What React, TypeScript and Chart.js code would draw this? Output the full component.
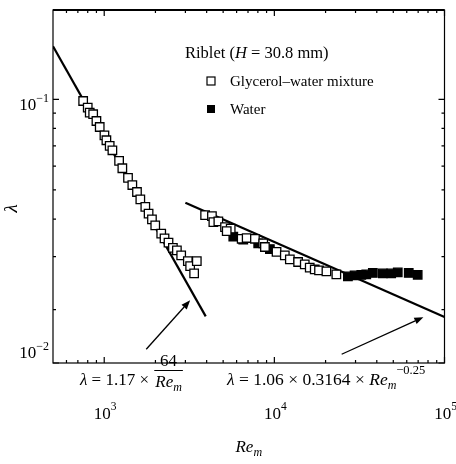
import { useEffect, useRef } from "react";
import { Chart, registerables } from "chart.js";
Chart.register(...registerables);

// ---- data ----
const glycerolRe = [752, 800, 822, 861, 900, 941, 1003, 1030, 1077, 1117, 1223, 1278, 1380, 1463, 1558, 1630, 1744, 1823, 1908, 1995, 2163, 2262, 2387, 2533, 2674, 2834, 3101, 3199, 3501, 3377,
  3917, 4296, 4380, 4686, 5129, 5539, 5248, 6425, 6873, 7688, 8600, 8800, 10300, 11520, 12330, 13790, 15090, 16140, 17270, 18300, 20230, 23140];
const glycerolLambda = [0.0987, 0.0938, 0.0903, 0.0892, 0.0847, 0.0809, 0.0759, 0.0731, 0.07, 0.0677, 0.0624, 0.059, 0.0548, 0.0519, 0.0492, 0.0465, 0.0439, 0.0417, 0.0399, 0.0381, 0.0358, 0.0345, 0.0334, 0.0321, 0.0315, 0.0303, 0.029, 0.0279, 0.029, 0.0264,
  0.0412, 0.0409, 0.0391, 0.0393, 0.0376, 0.0372, 0.0365, 0.0344, 0.0346, 0.0344, 0.0332, 0.0323, 0.0311, 0.0303, 0.0294, 0.0288, 0.0283, 0.0276, 0.0272, 0.027, 0.0268, 0.0262];
const waterRe = [5736, 6565, 8036, 9410, 27060, 29620, 32430, 34690, 37920, 43400, 48600, 53130, 61630, 69570];
const waterLambda = [0.035, 0.0342, 0.0332, 0.0318, 0.0258, 0.026, 0.0261, 0.0262, 0.0265, 0.0264, 0.0264, 0.0266, 0.0265, 0.0261];
const laminarRe = [500, 3950];
const laminarLambda = [0.15, 0.019];
const turbulentRe = [3000, 100000];
const turbulentLambda = [0.0453, 0.0189];

const xMajorTicks = [1000, 10000, 100000];
const xMajorLabels = [["10", "3"], ["10", "4"], ["10", "5"]];
const xMinorTicks = [600, 700, 800, 900, 2000, 3000, 4000, 5000, 6000, 7000, 8000, 9000, 20000, 30000, 40000, 50000, 60000, 70000, 80000, 90000];
const yMajorTicks = [0.1, 0.0133];
const yMajorLabels = [["10", "\u22121"], ["10", "\u22122"]];
const yMinorTicks = [0.02, 0.03, 0.04, 0.05, 0.06, 0.07, 0.08, 0.09];

const legendTitle = ["Riblet (", "H", " = 30.8 mm)"];
const seriesNames = ["Glycerol\u2013water mixture", "Water"];

const FAM = '"Liberation Serif", "Times New Roman", serif';

type Part = { t: string; size: number; italic?: boolean; dy?: number };

function drawParts(ctx: CanvasRenderingContext2D, parts: Part[], x: number, y: number, align: "left" | "center" | "right") {
  const widths = parts.map((p) => {
    ctx.font = `${p.italic ? "italic " : ""}${p.size}px ${FAM}`;
    return ctx.measureText(p.t).width;
  });
  const total = widths.reduce((a, b) => a + b, 0);
  let cx = align === "left" ? x : align === "center" ? x - total / 2 : x - total;
  ctx.textAlign = "left";
  ctx.textBaseline = "alphabetic";
  parts.forEach((p, i) => {
    ctx.font = `${p.italic ? "italic " : ""}${p.size}px ${FAM}`;
    ctx.fillText(p.t, cx, y + (p.dy || 0));
    cx += widths[i];
  });
  return cx;
}

function arrow(ctx: CanvasRenderingContext2D, x1: number, y1: number, x2: number, y2: number) {
  const ang = Math.atan2(y2 - y1, x2 - x1);
  const hl = 9, hw = 3.5;
  ctx.beginPath();
  ctx.moveTo(x1, y1);
  ctx.lineTo(x2 - hl * Math.cos(ang), y2 - hl * Math.sin(ang));
  ctx.lineWidth = 1.3;
  ctx.stroke();
  ctx.beginPath();
  ctx.moveTo(x2, y2);
  ctx.lineTo(x2 - hl * Math.cos(ang) + hw * Math.sin(ang), y2 - hl * Math.sin(ang) - hw * Math.cos(ang));
  ctx.lineTo(x2 - hl * Math.cos(ang) - hw * Math.sin(ang), y2 - hl * Math.sin(ang) + hw * Math.cos(ang));
  ctx.closePath();
  ctx.fill();
}

const decor = {
  id: "decor",
  afterDraw(chart: any) {
    const ctx: CanvasRenderingContext2D = chart.ctx;
    const { left, right, top, bottom } = chart.chartArea;
    const xs = chart.scales.x;
    const ys = chart.scales.y;
    ctx.save();
    ctx.strokeStyle = "#000";
    ctx.fillStyle = "#000";
    // frame
    ctx.lineWidth = 1.2;
    ctx.strokeRect(left, top, right - left, bottom - top);
    ctx.lineWidth = 2;
    ctx.beginPath();
    ctx.moveTo(left, top);
    ctx.lineTo(right, top);
    ctx.stroke();
    // ticks
    ctx.lineWidth = 1.2;
    const tickX = (v: number, len: number) => {
      const px = xs.getPixelForValue(v);
      ctx.beginPath();
      ctx.moveTo(px, bottom);
      ctx.lineTo(px, bottom - len);
      ctx.moveTo(px, top);
      ctx.lineTo(px, top + len);
      ctx.stroke();
    };
    const tickY = (v: number, len: number) => {
      const py = ys.getPixelForValue(v);
      ctx.beginPath();
      ctx.moveTo(left, py);
      ctx.lineTo(left + len, py);
      ctx.moveTo(right, py);
      ctx.lineTo(right - len, py);
      ctx.stroke();
    };
    xMinorTicks.forEach((v) => tickX(v, 3));
    xMajorTicks.forEach((v) => tickX(v, 6));
    yMinorTicks.forEach((v) => tickY(v, 3));
    yMajorTicks.forEach((v) => tickY(v, 6));
    // tick labels
    xMajorTicks.forEach((v, i) => {
      const px = xs.getPixelForValue(v);
      drawParts(ctx, [{ t: xMajorLabels[i][0], size: 17 }, { t: xMajorLabels[i][1], size: 11.5, dy: -9 }], px + 1, 419, "center");
    });
    yMajorTicks.forEach((v, i) => {
      const py = ys.getPixelForValue(v);
      const base = Math.min(py + 11, bottom - 5);
      drawParts(ctx, [{ t: yMajorLabels[i][0], size: 17 }, { t: yMajorLabels[i][1], size: 12, dy: -8 }], left - 4, base, "right");
    });
    // axis titles
    drawParts(ctx, [{ t: "Re", size: 17, italic: true }, { t: "m", size: 12, italic: true, dy: 4 }], (left + right) / 2, 452, "center");
    ctx.save();
    ctx.translate(17, (top + bottom) / 2 + 22);
    ctx.rotate(-Math.PI / 2);
    drawParts(ctx, [{ t: "\u03bb", size: 19, italic: true }], 0, 0, "center");
    ctx.restore();
    // legend
    drawParts(ctx, [{ t: legendTitle[0], size: 16.5 }, { t: legendTitle[1], size: 16.5, italic: true }, { t: legendTitle[2], size: 16.5 }], 185, 58, "left");
    const legendY = [81, 109];
    legendY.forEach((ly, i) => {
      ctx.lineWidth = 1.2;
      if (i === 0) {
        ctx.fillStyle = "#fff";
        ctx.fillRect(207, ly - 4, 8, 8);
        ctx.strokeRect(207, ly - 4, 8, 8);
        ctx.fillStyle = "#000";
      } else {
        ctx.fillRect(207, ly - 4, 8, 8);
      }
      drawParts(ctx, [{ t: seriesNames[i], size: 15 }], 230, ly + 5, "left");
    });
    // formulas
    const endL = drawParts(ctx, [{ t: "\u03bb", size: 17, italic: true }, { t: " = 1.17 \u00d7 ", size: 17 }], 80, 385, "left");
    ctx.font = `italic 17px ${FAM}`;
    const wRe = ctx.measureText("Re").width;
    ctx.font = `italic 12px ${FAM}`;
    const wm = ctx.measureText("m").width;
    const fracW = wRe + wm + 2;
    const fx = endL + 1;
    drawParts(ctx, [{ t: "64", size: 17 }], fx + fracW / 2, 366, "center");
    ctx.lineWidth = 1;
    ctx.beginPath();
    ctx.moveTo(fx, 370.5);
    ctx.lineTo(fx + fracW, 370.5);
    ctx.stroke();
    drawParts(ctx, [{ t: "Re", size: 17, italic: true }, { t: "m", size: 12, italic: true, dy: 4 }], fx + fracW / 2, 387, "center");
    drawParts(ctx, [
      { t: "\u03bb", size: 17.5, italic: true },
      { t: " = 1.06 \u00d7 0.3164 \u00d7 ", size: 17.5 },
      { t: "Re", size: 17.5, italic: true },
      { t: "m", size: 12, italic: true, dy: 4 },
      { t: "\u22120.25", size: 12.5, dy: -11 },
    ], 227, 385, "left");
    // arrows (anchored in data space)
    arrow(ctx, xs.getPixelForValue(1766), ys.getPixelForValue(0.01477), xs.getPixelForValue(3199), ys.getPixelForValue(0.02148));
    arrow(ctx, xs.getPixelForValue(24860), ys.getPixelForValue(0.01422), xs.getPixelForValue(75160), ys.getPixelForValue(0.01888));
    ctx.restore();
  },
};

export default function App() {
  const ref = useRef<HTMLCanvasElement | null>(null);
  useEffect(() => {
    if (!ref.current) return;
    const toPts = (xs: number[], ys: number[]) => xs.map((x, i) => ({ x, y: ys[i] }));
    const chart = new Chart(ref.current, {
      type: "scatter",
      data: {
        datasets: [
          {
            label: seriesNames[0],
            data: toPts(glycerolRe, glycerolLambda),
            pointStyle: "rect",
            pointRadius: 6,
            pointBackgroundColor: "#fff",
            pointBorderColor: "#000",
            pointBorderWidth: 1.3,
            showLine: false,
          },
          {
            label: seriesNames[1],
            data: toPts(waterRe, waterLambda),
            pointStyle: "rect",
            pointRadius: 6,
            pointBackgroundColor: "#000",
            pointBorderColor: "#000",
            pointBorderWidth: 1.3,
            showLine: false,
          },
          {
            label: "laminar",
            data: toPts(laminarRe, laminarLambda),
            showLine: true,
            borderColor: "#000",
            borderWidth: 2.2,
            pointRadius: 0,
          },
          {
            label: "turbulent",
            data: toPts(turbulentRe, turbulentLambda),
            showLine: true,
            borderColor: "#000",
            borderWidth: 2.2,
            pointRadius: 0,
          },
        ],
      } as any,
      options: {
        responsive: false,
        maintainAspectRatio: false,
        animation: false,
        layout: { padding: { top: 10, right: 11.5, left: 0, bottom: 0 } },
        plugins: { legend: { display: false }, tooltip: { enabled: false } },
        scales: {
          x: {
            type: "logarithmic",
            min: 500,
            max: 100000,
            ticks: { display: false },
            grid: { display: false },
            border: { display: false },
            afterFit: (s: any) => { s.height = 101; },
          },
          y: {
            type: "logarithmic",
            min: 0.0133,
            max: 0.198,
            ticks: { display: false },
            grid: { display: false },
            border: { display: false },
            afterFit: (s: any) => { s.width = 53; },
          },
        },
      } as any,
      plugins: [decor],
    });
    return () => chart.destroy();
  }, []);
  return (
    <div style={{ position: "absolute", left: 0, top: 0, width: 456, height: 464, background: "#fff" }}>
      <canvas ref={ref} width={456} height={464} style={{ display: "block" }} />
    </div>
  );
}
